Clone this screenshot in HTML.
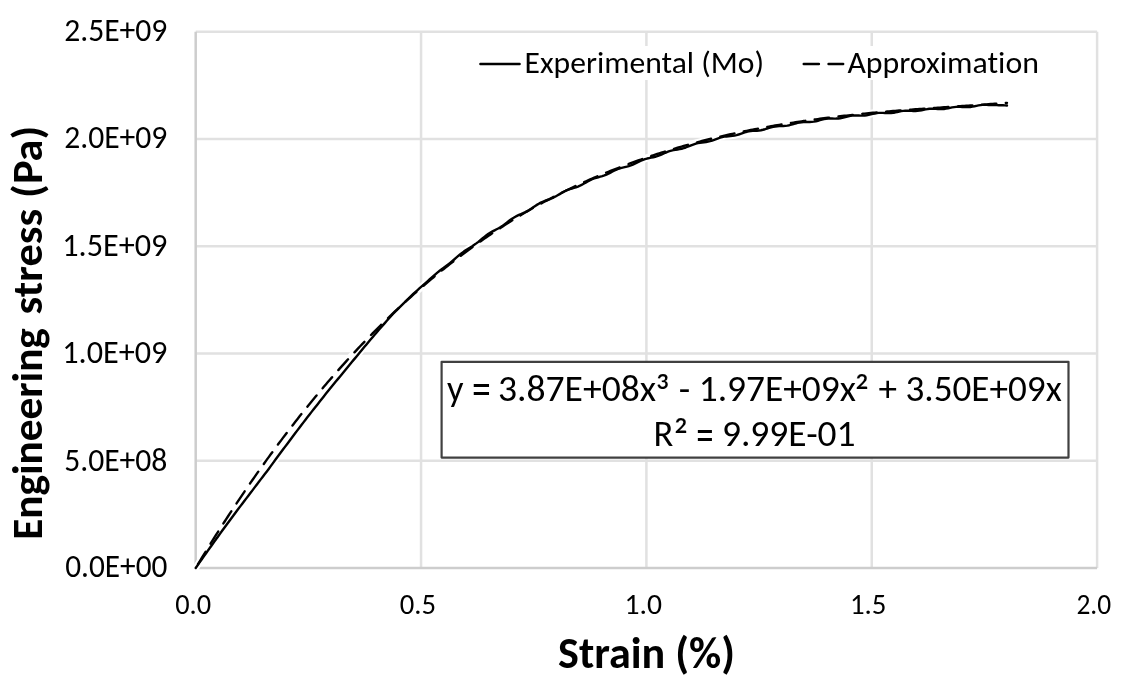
<!DOCTYPE html>
<html><head><meta charset="utf-8"><title>Engineering stress vs strain</title>
<style>
html,body{margin:0;padding:0;background:#fff;}
svg{display:block;}
text{font-family:Carlito, 'Liberation Sans', sans-serif;fill:#000;font-variant-ligatures:none;font-kerning:normal;font-size-adjust:0.4775;}
</style></head><body>
<svg width="1124" height="691" viewBox="0 0 1124 691">
<defs><filter id="soft" filterUnits="userSpaceOnUse" x="0" y="0" width="1124" height="691"><feGaussianBlur stdDeviation="0.55"/></filter></defs>
<rect width="1124" height="691" fill="#fff"/>
<g filter="url(#soft)">
<line x1="195.7" y1="460.74" x2="1097.10" y2="460.74" stroke="#e1e1e1" stroke-width="2.5"/>
<line x1="195.7" y1="353.48" x2="1097.10" y2="353.48" stroke="#e1e1e1" stroke-width="2.5"/>
<line x1="195.7" y1="246.22" x2="1097.10" y2="246.22" stroke="#e1e1e1" stroke-width="2.5"/>
<line x1="195.7" y1="138.96" x2="1097.10" y2="138.96" stroke="#e1e1e1" stroke-width="2.5"/>
<line x1="195.7" y1="31.70" x2="1097.10" y2="31.70" stroke="#e1e1e1" stroke-width="2.5"/>
<line x1="421.05" y1="31.70" x2="421.05" y2="568.0" stroke="#e1e1e1" stroke-width="2.5"/>
<line x1="646.40" y1="31.70" x2="646.40" y2="568.0" stroke="#e1e1e1" stroke-width="2.5"/>
<line x1="871.75" y1="31.70" x2="871.75" y2="568.0" stroke="#e1e1e1" stroke-width="2.5"/>
<line x1="1097.10" y1="31.70" x2="1097.10" y2="568.0" stroke="#e1e1e1" stroke-width="2.5"/>
<line x1="195.7" y1="31.70" x2="195.7" y2="568.0" stroke="#cdcdcd" stroke-width="2.5"/>
<line x1="195.7" y1="568.0" x2="1097.10" y2="568.0" stroke="#cdcdcd" stroke-width="2.5"/>
<path d="M195.70,568.00 L197.73,565.06 L199.77,562.13 L201.80,559.22 L203.83,556.33 L205.87,553.46 L207.90,550.60 L209.93,547.76 L211.97,544.93 L214.00,542.12 L216.03,539.27 L218.07,536.43 L220.10,533.61 L222.13,530.81 L224.17,528.03 L226.20,525.26 L228.23,522.51 L230.26,519.77 L232.30,517.02 L234.33,514.27 L236.36,511.54 L238.40,508.83 L240.43,506.13 L242.46,503.45 L244.50,500.78 L246.53,498.13 L248.56,495.50 L250.60,492.83 L252.63,490.11 L254.66,487.40 L256.70,484.70 L258.73,482.02 L260.76,479.36 L262.80,476.71 L264.83,474.08 L266.86,471.47 L268.90,468.74 L270.93,465.92 L272.96,463.12 L275.00,460.33 L277.03,457.56 L279.06,454.80 L281.10,452.06 L283.13,449.34 L285.16,446.62 L287.20,443.93 L289.23,441.25 L291.26,438.54 L293.30,435.81 L295.33,433.09 L297.36,430.39 L299.39,427.70 L301.43,425.02 L303.46,422.36 L305.49,419.72 L307.53,417.09 L309.56,414.47 L311.59,411.87 L313.63,409.28 L315.66,406.71 L317.69,404.14 L319.73,401.55 L321.76,398.98 L323.79,396.41 L325.83,393.87 L327.86,391.33 L329.89,388.81 L331.93,386.31 L333.96,383.81 L335.99,381.34 L338.03,378.87 L340.06,376.42 L342.09,373.99 L344.13,371.57 L346.16,369.06 L348.19,366.56 L350.23,364.07 L352.26,361.59 L354.29,359.13 L356.33,356.68 L358.36,354.24 L360.39,351.77 L362.43,349.31 L364.46,346.85 L366.49,344.41 L368.52,341.98 L370.56,339.57 L372.59,337.17 L374.62,334.78 L376.66,332.41 L378.69,330.06 L380.72,327.73 L382.76,325.41 L384.79,323.11 L386.82,320.81 L388.86,318.53 L390.89,316.26 L392.92,314.01 L394.96,311.86 L396.99,309.83 L399.02,307.82 L401.06,305.83 L403.09,303.83 L405.12,301.84 L407.16,299.84 L409.19,297.86 L411.22,295.91 L413.26,293.99 L415.29,292.11 L417.32,290.27 L419.36,288.44 L421.39,286.63 L423.42,284.89 L425.46,283.11 L427.49,281.31 L429.52,279.48 L431.56,277.66 L433.59,275.85 L435.62,274.09 L437.65,272.40 L439.69,270.79 L441.72,269.24 L443.75,267.73 L445.79,266.22 L447.82,264.69 L449.85,263.10 L451.89,261.43 L453.92,259.71 L455.95,257.94 L457.99,256.19 L460.02,254.48 L462.05,252.86 L464.09,251.35 L466.12,249.95 L468.15,248.66 L470.19,247.41 L472.22,246.15 L474.25,244.82 L476.29,243.38 L478.32,241.83 L480.35,240.20 L482.39,238.52 L484.42,236.86 L486.45,235.28 L488.49,233.84 L490.52,232.56 L492.55,231.41 L494.59,230.35 L496.62,229.29 L498.65,228.19 L500.68,226.98 L502.72,225.63 L504.75,224.17 L506.78,222.62 L508.82,221.05 L510.85,219.53 L512.88,218.17 L514.92,216.95 L516.95,215.88 L518.98,214.94 L521.02,214.06 L523.05,213.19 L525.08,212.24 L527.12,211.18 L529.15,209.99 L531.18,208.68 L533.22,207.30 L535.25,205.93 L537.28,204.63 L539.32,203.44 L541.35,202.40 L543.38,201.51 L545.42,200.73 L547.45,200.00 L549.48,199.28 L551.52,198.47 L553.55,197.55 L555.58,196.49 L557.62,195.33 L559.65,194.10 L561.68,192.89 L563.72,191.74 L565.75,190.72 L567.78,189.86 L569.81,189.13 L571.85,188.50 L573.88,187.91 L575.91,187.29 L577.95,186.58 L579.98,185.71 L582.01,184.68 L584.05,183.55 L586.08,182.38 L588.11,181.22 L590.15,180.15 L592.18,179.22 L594.21,178.43 L596.25,177.78 L598.28,177.22 L600.31,176.68 L602.35,176.09 L604.38,175.40 L606.41,174.58 L608.45,173.63 L610.48,172.59 L612.51,171.52 L614.55,170.48 L616.58,169.54 L618.61,168.74 L620.65,168.08 L622.68,167.56 L624.71,167.09 L626.75,166.60 L628.78,166.05 L630.81,165.39 L632.85,164.60 L634.88,163.68 L636.91,162.68 L638.94,161.66 L640.98,160.69 L643.01,159.83 L645.04,159.11 L647.08,158.54 L649.11,158.08 L651.14,157.69 L653.18,157.28 L655.21,156.81 L657.24,156.21 L659.28,155.48 L661.31,154.63 L663.34,153.71 L665.38,152.78 L667.41,151.92 L669.44,151.18 L671.48,150.58 L673.51,150.12 L675.54,149.77 L677.58,149.46 L679.61,149.13 L681.64,148.72 L683.68,148.18 L685.71,147.50 L687.74,146.71 L689.78,145.87 L691.81,145.03 L693.84,144.27 L695.88,143.63 L697.91,143.14 L699.94,142.79 L701.98,142.53 L704.01,142.30 L706.04,142.03 L708.07,141.66 L710.11,141.17 L712.14,140.54 L714.17,139.81 L716.21,139.03 L718.24,138.27 L720.27,137.61 L722.31,137.07 L724.34,136.68 L726.37,136.43 L728.41,136.25 L730.44,136.09 L732.47,135.87 L734.51,135.55 L736.54,135.09 L738.57,134.50 L740.61,133.81 L742.64,133.09 L744.67,132.41 L746.71,131.83 L748.74,131.39 L750.77,131.09 L752.81,130.91 L754.84,130.80 L756.87,130.68 L758.91,130.51 L760.94,130.21 L762.97,129.78 L765.01,129.22 L767.04,128.58 L769.07,127.93 L771.10,127.32 L773.14,126.82 L775.17,126.47 L777.20,126.25 L779.24,126.15 L781.27,126.10 L783.30,126.03 L785.34,125.88 L787.37,125.61 L789.40,125.20 L791.44,124.67 L793.47,124.07 L795.50,123.47 L797.54,122.93 L799.57,122.51 L801.60,122.23 L803.64,122.09 L805.67,122.05 L807.70,122.05 L809.74,122.02 L811.77,121.89 L813.80,121.64 L815.84,121.24 L817.87,120.74 L819.90,120.18 L821.94,119.63 L823.97,119.16 L826.00,118.81 L828.04,118.60 L830.07,118.53 L832.10,118.54 L834.14,118.58 L836.17,118.57 L838.20,118.46 L840.23,118.21 L842.27,117.83 L844.30,117.35 L846.33,116.82 L848.37,116.32 L850.40,115.90 L852.43,115.62 L854.47,115.48 L856.50,115.46 L858.53,115.52 L860.57,115.59 L862.60,115.59 L864.63,115.49 L866.67,115.24 L868.70,114.87 L870.73,114.40 L872.77,113.91 L874.80,113.47 L876.83,113.12 L878.87,112.91 L880.90,112.85 L882.93,112.90 L884.97,113.00 L887.00,113.11 L889.03,113.13 L891.07,113.04 L893.10,112.81 L895.13,112.45 L897.17,112.01 L899.20,111.55 L901.23,111.15 L903.27,110.85 L905.30,110.69 L907.33,110.67 L909.36,110.76 L911.40,110.89 L913.43,111.00 L915.46,111.02 L917.50,110.91 L919.53,110.67 L921.56,110.30 L923.60,109.87 L925.63,109.43 L927.66,109.06 L929.70,108.80 L931.73,108.68 L933.76,108.70 L935.80,108.82 L937.83,108.96 L939.86,109.06 L941.90,109.07 L943.93,108.94 L945.96,108.67 L948.00,108.29 L950.03,107.85 L952.06,107.42 L954.10,107.07 L956.13,106.85 L958.16,106.76 L960.20,106.81 L962.23,106.93 L964.26,107.07 L966.30,107.16 L968.33,107.14 L970.36,106.98 L972.40,106.68 L974.43,106.29 L976.46,105.84 L978.49,105.43 L980.53,105.10 L982.56,104.90 L984.59,104.84 L986.63,104.88 L988.66,104.98 L990.69,105.08 L992.73,105.11 L994.76,105.03 L996.79,105.08 L998.83,105.22 L1000.86,105.28 L1002.89,105.30 L1004.93,105.36 L1006.96,105.53" fill="none" stroke="#fff" stroke-width="6.4" stroke-linejoin="round" stroke-linecap="round"/>
<path d="M195.70,568.00 L197.73,564.62 L199.77,561.26 L201.80,557.92 L203.83,554.59 L205.87,551.28 L207.90,547.99 L209.93,544.71 L211.97,541.45 L214.00,538.21 L216.03,534.98 L218.07,531.77 L220.10,528.58 L222.13,525.40 L224.17,522.24 L226.20,519.10 L228.23,515.98 L230.26,512.87 L232.30,509.77 L234.33,506.70 L236.36,503.64 L238.40,500.59 L240.43,497.56 L242.46,494.55 L244.50,491.56 L246.53,488.58 L248.56,485.61 L250.60,482.67 L252.63,479.74 L254.66,476.82 L256.70,473.92 L258.73,471.04 L260.76,468.17 L262.80,465.32 L264.83,462.48 L266.86,459.66 L268.90,456.85 L270.93,454.06 L272.96,451.29 L275.00,448.53 L277.03,445.79 L279.06,443.06 L281.10,440.35 L283.13,437.65 L285.16,434.97 L287.20,432.30 L289.23,429.65 L291.26,427.01 L293.30,424.39 L295.33,421.78 L297.36,419.19 L299.39,416.61 L301.43,414.05 L303.46,411.51 L305.49,408.97 L307.53,406.46 L309.56,403.95 L311.59,401.46 L313.63,398.99 L315.66,396.53 L317.69,394.09 L319.73,391.66 L321.76,389.24 L323.79,386.84 L325.83,384.45 L327.86,382.08 L329.89,379.72 L331.93,377.38 L333.96,375.05 L335.99,372.73 L338.03,370.43 L340.06,368.14 L342.09,365.87 L344.13,363.61 L346.16,361.36 L348.19,359.13 L350.23,356.91 L352.26,354.70 L354.29,352.51 L356.33,350.33 L358.36,348.17 L360.39,346.02 L362.43,343.88 L364.46,341.76 L366.49,339.65 L368.52,337.55 L370.56,335.47 L372.59,333.40 L374.62,331.34 L376.66,329.30 L378.69,327.26 L380.72,325.25 L382.76,323.24 L384.79,321.25 L386.82,319.27 L388.86,317.31 L390.89,315.35 L392.92,313.41 L394.96,311.49 L396.99,309.57 L399.02,307.67 L401.06,305.78 L403.09,303.90 L405.12,302.04 L407.16,300.19 L409.19,298.35 L411.22,296.52 L413.26,294.71 L415.29,292.90 L417.32,291.11 L419.36,289.34 L421.39,287.57 L423.42,285.82 L425.46,284.08 L427.49,282.35 L429.52,280.63 L431.56,278.92 L433.59,277.23 L435.62,275.55 L437.65,273.88 L439.69,272.22 L441.72,270.57 L443.75,268.94 L445.79,267.32 L447.82,265.70 L449.85,264.10 L451.89,262.52 L453.92,260.94 L455.95,259.37 L457.99,257.82 L460.02,256.28 L462.05,254.74 L464.09,253.22 L466.12,251.71 L468.15,250.22 L470.19,248.73 L472.22,247.25 L474.25,245.79 L476.29,244.33 L478.32,242.89 L480.35,241.46 L482.39,240.03 L484.42,238.62 L486.45,237.22 L488.49,235.83 L490.52,234.45 L492.55,233.09 L494.59,231.73 L496.62,230.38 L498.65,229.04 L500.68,227.72 L502.72,226.40 L504.75,225.09 L506.78,223.80 L508.82,222.51 L510.85,221.24 L512.88,219.97 L514.92,218.72 L516.95,217.47 L518.98,216.24 L521.02,215.01 L523.05,213.80 L525.08,212.59 L527.12,211.40 L529.15,210.21 L531.18,209.03 L533.22,207.87 L535.25,206.72 L537.28,205.60 L539.32,204.48 L541.35,203.37 L543.38,202.27 L545.42,201.18 L547.45,200.10 L549.48,199.03 L551.52,197.96 L553.55,196.91 L555.58,195.87 L557.62,194.83 L559.65,193.80 L561.68,192.79 L563.72,191.78 L565.75,190.78 L567.78,189.79 L569.81,188.81 L571.85,187.84 L573.88,186.87 L575.91,185.92 L577.95,184.97 L579.98,184.03 L582.01,183.10 L584.05,182.18 L586.08,181.27 L588.11,180.37 L590.15,179.47 L592.18,178.58 L594.21,177.71 L596.25,176.84 L598.28,175.97 L600.31,175.12 L602.35,174.27 L604.38,173.43 L606.41,172.60 L608.45,171.78 L610.48,170.97 L612.51,170.16 L614.55,169.36 L616.58,168.57 L618.61,167.79 L620.65,167.01 L622.68,166.25 L624.71,165.48 L626.75,164.71 L628.78,163.94 L630.81,163.18 L632.85,162.43 L634.88,161.69 L636.91,160.96 L638.94,160.23 L640.98,159.51 L643.01,158.80 L645.04,158.09 L647.08,157.39 L649.11,156.70 L651.14,156.01 L653.18,155.34 L655.21,154.67 L657.24,154.00 L659.28,153.34 L661.31,152.69 L663.34,152.05 L665.38,151.41 L667.41,150.78 L669.44,150.16 L671.48,149.54 L673.51,148.93 L675.54,148.33 L677.58,147.73 L679.61,147.14 L681.64,146.55 L683.68,145.97 L685.71,145.40 L687.74,144.83 L689.78,144.27 L691.81,143.72 L693.84,143.17 L695.88,142.63 L697.91,142.09 L699.94,141.56 L701.98,141.03 L704.01,140.52 L706.04,140.00 L708.07,139.50 L710.11,138.99 L712.14,138.50 L714.17,138.01 L716.21,137.52 L718.24,137.04 L720.27,136.57 L722.31,136.10 L724.34,135.64 L726.37,135.18 L728.41,134.73 L730.44,134.28 L732.47,133.84 L734.51,133.40 L736.54,132.97 L738.57,132.53 L740.61,132.11 L742.64,131.68 L744.67,131.26 L746.71,130.85 L748.74,130.44 L750.77,130.04 L752.81,129.64 L754.84,129.24 L756.87,128.85 L758.91,128.47 L760.94,128.08 L762.97,127.71 L765.01,127.34 L767.04,126.97 L769.07,126.60 L771.10,126.25 L773.14,125.89 L775.17,125.54 L777.20,125.19 L779.24,124.85 L781.27,124.51 L783.30,124.18 L785.34,123.85 L787.37,123.52 L789.40,123.20 L791.44,122.88 L793.47,122.57 L795.50,122.26 L797.54,121.95 L799.57,121.64 L801.60,121.34 L803.64,121.05 L805.67,120.76 L807.70,120.47 L809.74,120.18 L811.77,119.90 L813.80,119.62 L815.84,119.34 L817.87,119.07 L819.90,118.80 L821.94,118.53 L823.97,118.27 L826.00,118.01 L828.04,117.75 L830.07,117.50 L832.10,117.25 L834.14,117.00 L836.17,116.75 L838.20,116.51 L840.23,116.27 L842.27,116.03 L844.30,115.80 L846.33,115.57 L848.37,115.34 L850.40,115.11 L852.43,114.89 L854.47,114.66 L856.50,114.44 L858.53,114.23 L860.57,114.01 L862.60,113.80 L864.63,113.59 L866.67,113.38 L868.70,113.17 L870.73,112.97 L872.77,112.78 L874.80,112.60 L876.83,112.42 L878.87,112.24 L880.90,112.07 L882.93,111.89 L884.97,111.72 L887.00,111.55 L889.03,111.38 L891.07,111.22 L893.10,111.05 L895.13,110.89 L897.17,110.72 L899.20,110.56 L901.23,110.40 L903.27,110.25 L905.30,110.09 L907.33,109.93 L909.36,109.78 L911.40,109.63 L913.43,109.47 L915.46,109.32 L917.50,109.17 L919.53,109.02 L921.56,108.88 L923.60,108.73 L925.63,108.58 L927.66,108.44 L929.70,108.29 L931.73,108.15 L933.76,108.00 L935.80,107.86 L937.83,107.72 L939.86,107.58 L941.90,107.44 L943.93,107.29 L945.96,107.15 L948.00,107.01 L950.03,106.87 L952.06,106.73 L954.10,106.59 L956.13,106.46 L958.16,106.32 L960.20,106.18 L962.23,106.04 L964.26,105.90 L966.30,105.76 L968.33,105.62 L970.36,105.48 L972.40,105.34 L974.43,105.20 L976.46,105.06 L978.49,104.92 L980.53,104.78 L982.56,104.63 L984.59,104.49 L986.63,104.35 L988.66,104.21 L990.69,104.06 L992.73,103.92 L994.76,103.77 L996.79,103.63 L998.83,103.48 L1000.86,103.33 L1002.89,103.18 L1004.93,103.03 L1006.96,102.88" fill="none" stroke="#fff" stroke-width="6.4" stroke-linejoin="round" stroke-linecap="round"/>
<path d="M195.70,568.00 L197.73,565.06 L199.77,562.13 L201.80,559.22 L203.83,556.33 L205.87,553.46 L207.90,550.60 L209.93,547.76 L211.97,544.93 L214.00,542.12 L216.03,539.27 L218.07,536.43 L220.10,533.61 L222.13,530.81 L224.17,528.03 L226.20,525.26 L228.23,522.51 L230.26,519.77 L232.30,517.02 L234.33,514.27 L236.36,511.54 L238.40,508.83 L240.43,506.13 L242.46,503.45 L244.50,500.78 L246.53,498.13 L248.56,495.50 L250.60,492.83 L252.63,490.11 L254.66,487.40 L256.70,484.70 L258.73,482.02 L260.76,479.36 L262.80,476.71 L264.83,474.08 L266.86,471.47 L268.90,468.74 L270.93,465.92 L272.96,463.12 L275.00,460.33 L277.03,457.56 L279.06,454.80 L281.10,452.06 L283.13,449.34 L285.16,446.62 L287.20,443.93 L289.23,441.25 L291.26,438.54 L293.30,435.81 L295.33,433.09 L297.36,430.39 L299.39,427.70 L301.43,425.02 L303.46,422.36 L305.49,419.72 L307.53,417.09 L309.56,414.47 L311.59,411.87 L313.63,409.28 L315.66,406.71 L317.69,404.14 L319.73,401.55 L321.76,398.98 L323.79,396.41 L325.83,393.87 L327.86,391.33 L329.89,388.81 L331.93,386.31 L333.96,383.81 L335.99,381.34 L338.03,378.87 L340.06,376.42 L342.09,373.99 L344.13,371.57 L346.16,369.06 L348.19,366.56 L350.23,364.07 L352.26,361.59 L354.29,359.13 L356.33,356.68 L358.36,354.24 L360.39,351.77 L362.43,349.31 L364.46,346.85 L366.49,344.41 L368.52,341.98 L370.56,339.57 L372.59,337.17 L374.62,334.78 L376.66,332.41 L378.69,330.06 L380.72,327.73 L382.76,325.41 L384.79,323.11 L386.82,320.81 L388.86,318.53 L390.89,316.26 L392.92,314.01 L394.96,311.86 L396.99,309.83 L399.02,307.82 L401.06,305.83 L403.09,303.83 L405.12,301.84 L407.16,299.84 L409.19,297.86 L411.22,295.91 L413.26,293.99 L415.29,292.11 L417.32,290.27 L419.36,288.44 L421.39,286.63 L423.42,284.89 L425.46,283.11 L427.49,281.31 L429.52,279.48 L431.56,277.66 L433.59,275.85 L435.62,274.09 L437.65,272.40 L439.69,270.79 L441.72,269.24 L443.75,267.73 L445.79,266.22 L447.82,264.69 L449.85,263.10 L451.89,261.43 L453.92,259.71 L455.95,257.94 L457.99,256.19 L460.02,254.48 L462.05,252.86 L464.09,251.35 L466.12,249.95 L468.15,248.66 L470.19,247.41 L472.22,246.15 L474.25,244.82 L476.29,243.38 L478.32,241.83 L480.35,240.20 L482.39,238.52 L484.42,236.86 L486.45,235.28 L488.49,233.84 L490.52,232.56 L492.55,231.41 L494.59,230.35 L496.62,229.29 L498.65,228.19 L500.68,226.98 L502.72,225.63 L504.75,224.17 L506.78,222.62 L508.82,221.05 L510.85,219.53 L512.88,218.17 L514.92,216.95 L516.95,215.88 L518.98,214.94 L521.02,214.06 L523.05,213.19 L525.08,212.24 L527.12,211.18 L529.15,209.99 L531.18,208.68 L533.22,207.30 L535.25,205.93 L537.28,204.63 L539.32,203.44 L541.35,202.40 L543.38,201.51 L545.42,200.73 L547.45,200.00 L549.48,199.28 L551.52,198.47 L553.55,197.55 L555.58,196.49 L557.62,195.33 L559.65,194.10 L561.68,192.89 L563.72,191.74 L565.75,190.72 L567.78,189.86 L569.81,189.13 L571.85,188.50 L573.88,187.91 L575.91,187.29 L577.95,186.58 L579.98,185.71 L582.01,184.68 L584.05,183.55 L586.08,182.38 L588.11,181.22 L590.15,180.15 L592.18,179.22 L594.21,178.43 L596.25,177.78 L598.28,177.22 L600.31,176.68 L602.35,176.09 L604.38,175.40 L606.41,174.58 L608.45,173.63 L610.48,172.59 L612.51,171.52 L614.55,170.48 L616.58,169.54 L618.61,168.74 L620.65,168.08 L622.68,167.56 L624.71,167.09 L626.75,166.60 L628.78,166.05 L630.81,165.39 L632.85,164.60 L634.88,163.68 L636.91,162.68 L638.94,161.66 L640.98,160.69 L643.01,159.83 L645.04,159.11 L647.08,158.54 L649.11,158.08 L651.14,157.69 L653.18,157.28 L655.21,156.81 L657.24,156.21 L659.28,155.48 L661.31,154.63 L663.34,153.71 L665.38,152.78 L667.41,151.92 L669.44,151.18 L671.48,150.58 L673.51,150.12 L675.54,149.77 L677.58,149.46 L679.61,149.13 L681.64,148.72 L683.68,148.18 L685.71,147.50 L687.74,146.71 L689.78,145.87 L691.81,145.03 L693.84,144.27 L695.88,143.63 L697.91,143.14 L699.94,142.79 L701.98,142.53 L704.01,142.30 L706.04,142.03 L708.07,141.66 L710.11,141.17 L712.14,140.54 L714.17,139.81 L716.21,139.03 L718.24,138.27 L720.27,137.61 L722.31,137.07 L724.34,136.68 L726.37,136.43 L728.41,136.25 L730.44,136.09 L732.47,135.87 L734.51,135.55 L736.54,135.09 L738.57,134.50 L740.61,133.81 L742.64,133.09 L744.67,132.41 L746.71,131.83 L748.74,131.39 L750.77,131.09 L752.81,130.91 L754.84,130.80 L756.87,130.68 L758.91,130.51 L760.94,130.21 L762.97,129.78 L765.01,129.22 L767.04,128.58 L769.07,127.93 L771.10,127.32 L773.14,126.82 L775.17,126.47 L777.20,126.25 L779.24,126.15 L781.27,126.10 L783.30,126.03 L785.34,125.88 L787.37,125.61 L789.40,125.20 L791.44,124.67 L793.47,124.07 L795.50,123.47 L797.54,122.93 L799.57,122.51 L801.60,122.23 L803.64,122.09 L805.67,122.05 L807.70,122.05 L809.74,122.02 L811.77,121.89 L813.80,121.64 L815.84,121.24 L817.87,120.74 L819.90,120.18 L821.94,119.63 L823.97,119.16 L826.00,118.81 L828.04,118.60 L830.07,118.53 L832.10,118.54 L834.14,118.58 L836.17,118.57 L838.20,118.46 L840.23,118.21 L842.27,117.83 L844.30,117.35 L846.33,116.82 L848.37,116.32 L850.40,115.90 L852.43,115.62 L854.47,115.48 L856.50,115.46 L858.53,115.52 L860.57,115.59 L862.60,115.59 L864.63,115.49 L866.67,115.24 L868.70,114.87 L870.73,114.40 L872.77,113.91 L874.80,113.47 L876.83,113.12 L878.87,112.91 L880.90,112.85 L882.93,112.90 L884.97,113.00 L887.00,113.11 L889.03,113.13 L891.07,113.04 L893.10,112.81 L895.13,112.45 L897.17,112.01 L899.20,111.55 L901.23,111.15 L903.27,110.85 L905.30,110.69 L907.33,110.67 L909.36,110.76 L911.40,110.89 L913.43,111.00 L915.46,111.02 L917.50,110.91 L919.53,110.67 L921.56,110.30 L923.60,109.87 L925.63,109.43 L927.66,109.06 L929.70,108.80 L931.73,108.68 L933.76,108.70 L935.80,108.82 L937.83,108.96 L939.86,109.06 L941.90,109.07 L943.93,108.94 L945.96,108.67 L948.00,108.29 L950.03,107.85 L952.06,107.42 L954.10,107.07 L956.13,106.85 L958.16,106.76 L960.20,106.81 L962.23,106.93 L964.26,107.07 L966.30,107.16 L968.33,107.14 L970.36,106.98 L972.40,106.68 L974.43,106.29 L976.46,105.84 L978.49,105.43 L980.53,105.10 L982.56,104.90 L984.59,104.84 L986.63,104.88 L988.66,104.98 L990.69,105.08 L992.73,105.11 L994.76,105.03 L996.79,105.08 L998.83,105.22 L1000.86,105.28 L1002.89,105.30 L1004.93,105.36 L1006.96,105.53" fill="none" stroke="#000" stroke-width="2.4" stroke-linejoin="round" stroke-linecap="round"/>
<path d="M195.70,568.00 L197.73,564.62 L199.77,561.26 L201.80,557.92 L203.83,554.59 L205.87,551.28 L207.90,547.99 L209.93,544.71 L211.97,541.45 L214.00,538.21 L216.03,534.98 L218.07,531.77 L220.10,528.58 L222.13,525.40 L224.17,522.24 L226.20,519.10 L228.23,515.98 L230.26,512.87 L232.30,509.77 L234.33,506.70 L236.36,503.64 L238.40,500.59 L240.43,497.56 L242.46,494.55 L244.50,491.56 L246.53,488.58 L248.56,485.61 L250.60,482.67 L252.63,479.74 L254.66,476.82 L256.70,473.92 L258.73,471.04 L260.76,468.17 L262.80,465.32 L264.83,462.48 L266.86,459.66 L268.90,456.85 L270.93,454.06 L272.96,451.29 L275.00,448.53 L277.03,445.79 L279.06,443.06 L281.10,440.35 L283.13,437.65 L285.16,434.97 L287.20,432.30 L289.23,429.65 L291.26,427.01 L293.30,424.39 L295.33,421.78 L297.36,419.19 L299.39,416.61 L301.43,414.05 L303.46,411.51 L305.49,408.97 L307.53,406.46 L309.56,403.95 L311.59,401.46 L313.63,398.99 L315.66,396.53 L317.69,394.09 L319.73,391.66 L321.76,389.24 L323.79,386.84 L325.83,384.45 L327.86,382.08 L329.89,379.72 L331.93,377.38 L333.96,375.05 L335.99,372.73 L338.03,370.43 L340.06,368.14 L342.09,365.87 L344.13,363.61 L346.16,361.36 L348.19,359.13 L350.23,356.91 L352.26,354.70 L354.29,352.51 L356.33,350.33 L358.36,348.17 L360.39,346.02 L362.43,343.88 L364.46,341.76 L366.49,339.65 L368.52,337.55 L370.56,335.47 L372.59,333.40 L374.62,331.34 L376.66,329.30 L378.69,327.26 L380.72,325.25 L382.76,323.24 L384.79,321.25 L386.82,319.27 L388.86,317.31 L390.89,315.35 L392.92,313.41 L394.96,311.49 L396.99,309.57 L399.02,307.67 L401.06,305.78 L403.09,303.90 L405.12,302.04 L407.16,300.19 L409.19,298.35 L411.22,296.52 L413.26,294.71 L415.29,292.90 L417.32,291.11 L419.36,289.34 L421.39,287.57 L423.42,285.82 L425.46,284.08 L427.49,282.35 L429.52,280.63 L431.56,278.92 L433.59,277.23 L435.62,275.55 L437.65,273.88 L439.69,272.22 L441.72,270.57 L443.75,268.94 L445.79,267.32 L447.82,265.70 L449.85,264.10 L451.89,262.52 L453.92,260.94 L455.95,259.37 L457.99,257.82 L460.02,256.28 L462.05,254.74 L464.09,253.22 L466.12,251.71 L468.15,250.22 L470.19,248.73 L472.22,247.25 L474.25,245.79 L476.29,244.33 L478.32,242.89 L480.35,241.46 L482.39,240.03 L484.42,238.62 L486.45,237.22 L488.49,235.83 L490.52,234.45 L492.55,233.09 L494.59,231.73 L496.62,230.38 L498.65,229.04 L500.68,227.72 L502.72,226.40 L504.75,225.09 L506.78,223.80 L508.82,222.51 L510.85,221.24 L512.88,219.97 L514.92,218.72 L516.95,217.47 L518.98,216.24 L521.02,215.01 L523.05,213.80 L525.08,212.59 L527.12,211.40 L529.15,210.21 L531.18,209.03 L533.22,207.87 L535.25,206.72 L537.28,205.60 L539.32,204.48 L541.35,203.37 L543.38,202.27 L545.42,201.18 L547.45,200.10 L549.48,199.03 L551.52,197.96 L553.55,196.91 L555.58,195.87 L557.62,194.83 L559.65,193.80 L561.68,192.79 L563.72,191.78 L565.75,190.78 L567.78,189.79 L569.81,188.81 L571.85,187.84 L573.88,186.87 L575.91,185.92 L577.95,184.97 L579.98,184.03 L582.01,183.10 L584.05,182.18 L586.08,181.27 L588.11,180.37 L590.15,179.47 L592.18,178.58 L594.21,177.71 L596.25,176.84 L598.28,175.97 L600.31,175.12 L602.35,174.27 L604.38,173.43 L606.41,172.60 L608.45,171.78 L610.48,170.97 L612.51,170.16 L614.55,169.36 L616.58,168.57 L618.61,167.79 L620.65,167.01 L622.68,166.25 L624.71,165.48 L626.75,164.71 L628.78,163.94 L630.81,163.18 L632.85,162.43 L634.88,161.69 L636.91,160.96 L638.94,160.23 L640.98,159.51 L643.01,158.80 L645.04,158.09 L647.08,157.39 L649.11,156.70 L651.14,156.01 L653.18,155.34 L655.21,154.67 L657.24,154.00 L659.28,153.34 L661.31,152.69 L663.34,152.05 L665.38,151.41 L667.41,150.78 L669.44,150.16 L671.48,149.54 L673.51,148.93 L675.54,148.33 L677.58,147.73 L679.61,147.14 L681.64,146.55 L683.68,145.97 L685.71,145.40 L687.74,144.83 L689.78,144.27 L691.81,143.72 L693.84,143.17 L695.88,142.63 L697.91,142.09 L699.94,141.56 L701.98,141.03 L704.01,140.52 L706.04,140.00 L708.07,139.50 L710.11,138.99 L712.14,138.50 L714.17,138.01 L716.21,137.52 L718.24,137.04 L720.27,136.57 L722.31,136.10 L724.34,135.64 L726.37,135.18 L728.41,134.73 L730.44,134.28 L732.47,133.84 L734.51,133.40 L736.54,132.97 L738.57,132.53 L740.61,132.11 L742.64,131.68 L744.67,131.26 L746.71,130.85 L748.74,130.44 L750.77,130.04 L752.81,129.64 L754.84,129.24 L756.87,128.85 L758.91,128.47 L760.94,128.08 L762.97,127.71 L765.01,127.34 L767.04,126.97 L769.07,126.60 L771.10,126.25 L773.14,125.89 L775.17,125.54 L777.20,125.19 L779.24,124.85 L781.27,124.51 L783.30,124.18 L785.34,123.85 L787.37,123.52 L789.40,123.20 L791.44,122.88 L793.47,122.57 L795.50,122.26 L797.54,121.95 L799.57,121.64 L801.60,121.34 L803.64,121.05 L805.67,120.76 L807.70,120.47 L809.74,120.18 L811.77,119.90 L813.80,119.62 L815.84,119.34 L817.87,119.07 L819.90,118.80 L821.94,118.53 L823.97,118.27 L826.00,118.01 L828.04,117.75 L830.07,117.50 L832.10,117.25 L834.14,117.00 L836.17,116.75 L838.20,116.51 L840.23,116.27 L842.27,116.03 L844.30,115.80 L846.33,115.57 L848.37,115.34 L850.40,115.11 L852.43,114.89 L854.47,114.66 L856.50,114.44 L858.53,114.23 L860.57,114.01 L862.60,113.80 L864.63,113.59 L866.67,113.38 L868.70,113.17 L870.73,112.97 L872.77,112.78 L874.80,112.60 L876.83,112.42 L878.87,112.24 L880.90,112.07 L882.93,111.89 L884.97,111.72 L887.00,111.55 L889.03,111.38 L891.07,111.22 L893.10,111.05 L895.13,110.89 L897.17,110.72 L899.20,110.56 L901.23,110.40 L903.27,110.25 L905.30,110.09 L907.33,109.93 L909.36,109.78 L911.40,109.63 L913.43,109.47 L915.46,109.32 L917.50,109.17 L919.53,109.02 L921.56,108.88 L923.60,108.73 L925.63,108.58 L927.66,108.44 L929.70,108.29 L931.73,108.15 L933.76,108.00 L935.80,107.86 L937.83,107.72 L939.86,107.58 L941.90,107.44 L943.93,107.29 L945.96,107.15 L948.00,107.01 L950.03,106.87 L952.06,106.73 L954.10,106.59 L956.13,106.46 L958.16,106.32 L960.20,106.18 L962.23,106.04 L964.26,105.90 L966.30,105.76 L968.33,105.62 L970.36,105.48 L972.40,105.34 L974.43,105.20 L976.46,105.06 L978.49,104.92 L980.53,104.78 L982.56,104.63 L984.59,104.49 L986.63,104.35 L988.66,104.21 L990.69,104.06 L992.73,103.92 L994.76,103.77 L996.79,103.63 L998.83,103.48 L1000.86,103.33 L1002.89,103.18 L1004.93,103.03 L1006.96,102.88" fill="none" stroke="#000" stroke-width="2.4" stroke-linejoin="round" stroke-linecap="round" stroke-dasharray="14.5 9.48" stroke-dashoffset="-4.5"/>
<rect x="474" y="46" width="570" height="34" fill="#fff"/>
<line x1="480.4" y1="64" x2="519.6" y2="64" stroke="#000" stroke-width="2.4" stroke-linecap="round"/>
<line x1="803.7" y1="64" x2="818.9" y2="64" stroke="#000" stroke-width="2.4" stroke-linecap="round"/>
<line x1="828.5" y1="64" x2="843.2" y2="64" stroke="#000" stroke-width="2.4" stroke-linecap="round"/>
<rect x="441.6" y="361.8" width="626.9" height="95.8" fill="#fff" stroke="#404040" stroke-width="2.2" stroke-linejoin="round"/>
<text x="65.20" y="577.35" font-size="32" textLength="102.20" lengthAdjust="spacingAndGlyphs">0.0E+00</text>
<text x="64.20" y="471.31" font-size="32" textLength="103.20" lengthAdjust="spacingAndGlyphs">5.0E+08</text>
<text x="62.20" y="363.27" font-size="32" textLength="105.20" lengthAdjust="spacingAndGlyphs">1.0E+09</text>
<text x="62.20" y="256.23" font-size="32" textLength="105.20" lengthAdjust="spacingAndGlyphs">1.5E+09</text>
<text x="64.20" y="148.19" font-size="32" textLength="103.20" lengthAdjust="spacingAndGlyphs">2.0E+09</text>
<text x="64.20" y="41.15" font-size="32" textLength="103.20" lengthAdjust="spacingAndGlyphs">2.5E+09</text>
<text x="193.20" y="613.65" font-size="28.6" text-anchor="middle" textLength="35.90" lengthAdjust="spacingAndGlyphs">0.0</text>
<text x="417.80" y="613.65" font-size="28.6" text-anchor="middle" textLength="36.30" lengthAdjust="spacingAndGlyphs">0.5</text>
<text x="643.35" y="613.65" font-size="28.6" text-anchor="middle" textLength="37.50" lengthAdjust="spacingAndGlyphs">1.0</text>
<text x="868.15" y="613.65" font-size="28.6" text-anchor="middle" textLength="36.50" lengthAdjust="spacingAndGlyphs">1.5</text>
<text x="1093.75" y="613.65" font-size="28.6" text-anchor="middle" textLength="34.70" lengthAdjust="spacingAndGlyphs">2.0</text>
<text x="558.00" y="668.10" font-size="44.5" font-weight="bold" textLength="177.00" lengthAdjust="spacingAndGlyphs">Strain (%)</text>
<text transform="translate(42.40,539.80) rotate(-90)" x="0" y="0" font-size="43.2" font-weight="bold" textLength="211.60" lengthAdjust="spacingAndGlyphs">Engineering</text>
<text transform="translate(42.40,314.50) rotate(-90)" x="0" y="0" font-size="43.2" font-weight="bold" textLength="105.70" lengthAdjust="spacingAndGlyphs">stress</text>
<text transform="translate(42.40,197.90) rotate(-90)" x="0" y="0" font-size="43.2" font-weight="bold" textLength="72.10" lengthAdjust="spacingAndGlyphs">(Pa)</text>
<text x="524.50" y="73.20" font-size="31" textLength="239.50" lengthAdjust="spacingAndGlyphs">Experimental (Mo)</text>
<text x="847.40" y="73.10" font-size="31" textLength="191.50" lengthAdjust="spacingAndGlyphs">Approximation</text>
<text x="446.90" y="400.90" font-size="36.5">y</text>
<text x="471.90" y="405.10" font-size="47" textLength="18.80" lengthAdjust="spacingAndGlyphs">=</text>
<text x="497.90" y="400.90" font-size="36.5" textLength="158.20" lengthAdjust="spacingAndGlyphs">3.87E+08x</text>
<text x="655.20" y="407.65" font-size="44" stroke="#fff" stroke-width="0.15">³</text>
<text x="678.80" y="400.90" font-size="36.5" textLength="177.10" lengthAdjust="spacingAndGlyphs">- 1.97E+09x</text>
<text x="854.40" y="407.65" font-size="44" stroke="#fff" stroke-width="0.15">²</text>
<text x="878.50" y="400.90" font-size="36.5" textLength="183.25" lengthAdjust="spacingAndGlyphs">+ 3.50E+09x</text>
<text x="653.50" y="445.90" font-size="36.5">R</text>
<text x="673.60" y="451.85" font-size="44" stroke="#fff" stroke-width="0.15">²</text>
<text x="696.30" y="451.20" font-size="47" textLength="17.30" lengthAdjust="spacingAndGlyphs">=</text>
<text x="721.90" y="445.90" font-size="36.5" textLength="133.70" lengthAdjust="spacingAndGlyphs">9.99E-01</text>
</g>
</svg>
</body></html>
